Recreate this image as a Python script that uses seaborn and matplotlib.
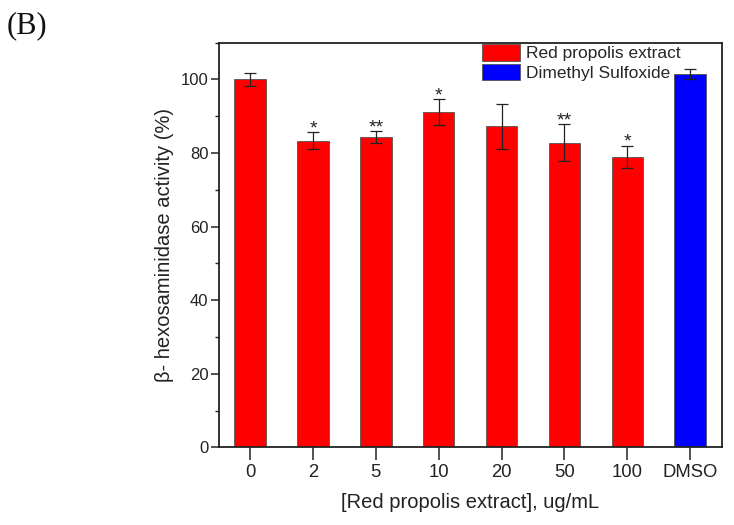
import numpy as np
import pandas as pd
import matplotlib
matplotlib.use("Agg")
import matplotlib.pyplot as plt
import seaborn as sns
from matplotlib.patches import Patch
from matplotlib.ticker import MultipleLocator

# values
categories = ["0", "2", "5", "10", "20", "50", "100", "DMSO"]
activity = [100.0, 83.3, 84.4, 91.1, 87.2, 82.8, 79.0, 101.4]
sd = [1.7, 2.3, 1.6, 3.6, 6.2, 5.0, 3.0, 1.4]
groups = ["Red propolis extract"] * 7 + ["Dimethyl Sulfoxide"]
signif = ["", "*", "**", "*", "", "**", "*", ""]

sns.set_style("white")
plt.rcParams["font.family"] = ["Liberation Sans", "DejaVu Sans"]

df = pd.DataFrame({"conc": categories, "act": activity, "grp": groups})
palette = {"Red propolis extract": "#ff0000", "Dimethyl Sulfoxide": "#0000ff"}
ink = "#222222"

fig = plt.figure(figsize=(7.34, 5.25), dpi=100)
ax = fig.add_axes([0.298, 0.148, 0.685, 0.771])

sns.barplot(data=df, x="conc", y="act", hue="grp", palette=palette,
            order=categories, width=0.5, dodge=False, legend=False,
            edgecolor="#555555", linewidth=0.6, saturation=1, ax=ax)

x = np.arange(len(categories))
ax.errorbar(x, activity, yerr=sd, fmt="none", ecolor=ink,
            elinewidth=0.9, capsize=4, capthick=0.9, zorder=3)
for xi, v, s, lab in zip(x, activity, sd, signif):
    if lab:
        ax.text(xi, v + s - 1.4, lab, ha="center", va="bottom",
                fontsize=14, color=ink, zorder=4)

ax.set_xlim(-0.5, 7.5)
ax.set_ylim(0, 110)
ax.yaxis.set_major_locator(MultipleLocator(20))
ax.yaxis.set_minor_locator(MultipleLocator(10))
ax.tick_params(axis="x", which="major", direction="out", length=9,
               width=1.1, color=ink, labelsize=13.3, labelcolor=ink, pad=3,
               bottom=True, top=False)
ax.tick_params(axis="y", which="major", direction="out", length=5.5,
               width=1.1, color=ink, labelsize=12, labelcolor=ink, pad=2,
               left=True, right=False)
ax.tick_params(axis="y", which="minor", direction="out", length=3,
               width=1.0, color=ink, left=True, right=False)
for sp in ax.spines.values():
    sp.set_visible(True)
    sp.set_color(ink)
    sp.set_linewidth(1.3)

ax.set_xlabel("[Red propolis extract], ug/mL", fontsize=14.5, color=ink,
              labelpad=9)
ax.set_ylabel("\u03b2- hexosaminidase activity (%)", fontsize=14.5,
              color=ink, labelpad=5)

handles = [Patch(facecolor=palette[g], edgecolor="#555555", linewidth=0.6)
           for g in palette]
ax.legend(handles, list(palette), loc="upper left", bbox_to_anchor=(0.52, 1.0),
          frameon=False, fontsize=12.5, handlelength=2.2, handleheight=1.1,
          handletextpad=0.35, labelspacing=0.12, borderaxespad=0.05,
          borderpad=0.05)

fig.text(0.009, 0.978, "(B)", family=["Liberation Serif", "DejaVu Serif"],
         fontsize=22, va="top", ha="left", color="#111111")

fig.savefig("out.png", dpi=100)
